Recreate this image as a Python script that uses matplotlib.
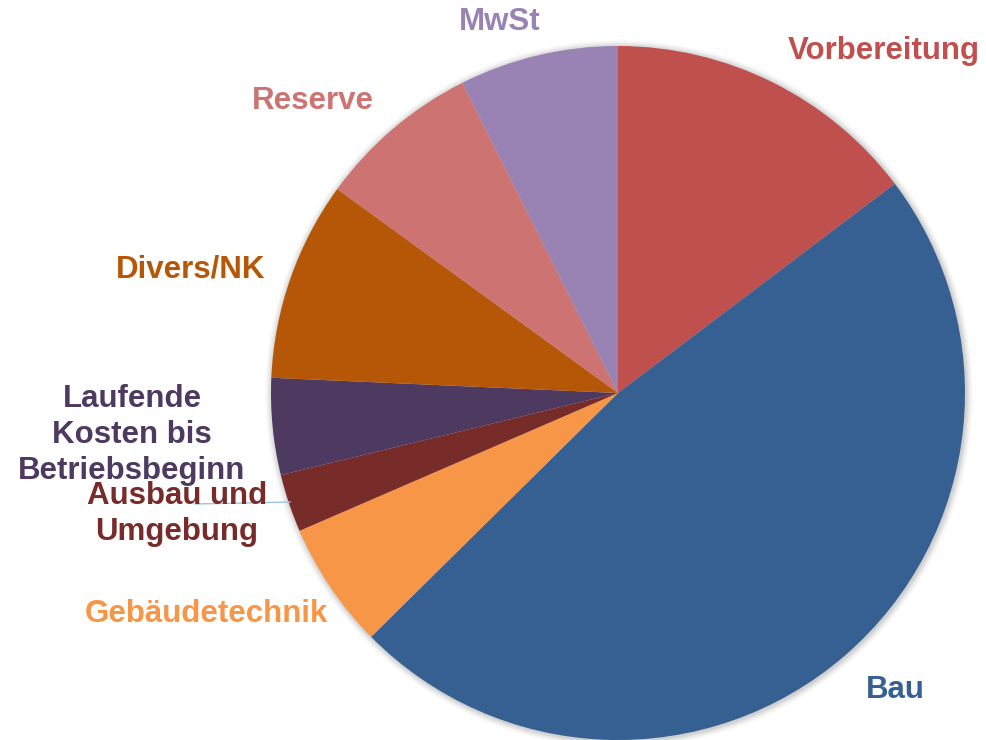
import matplotlib.pyplot as plt
from matplotlib.patches import Circle

# Kostenanteile (in %), im Uhrzeigersinn ab 12 Uhr
labels = ['Vorbereitung', 'Bau', 'Gebäudetechnik', 'Ausbau und\nUmgebung',
          'Laufende\nKosten bis\nBetriebsbeginn', 'Divers/NK', 'Reserve', 'MwSt']
values = [14.7, 47.9, 5.9, 2.7, 4.5, 9.3, 7.6, 7.4]
colors = ['#C0504D', '#366092', '#F79646', '#772C2A',
          '#4E3A61', '#B65708', '#CD7371', '#9983B5']

plt.rcParams['font.family'] = ['Liberation Sans', 'DejaVu Sans']

fig = plt.figure(figsize=(9.86, 7.40), dpi=100)
fig.patch.set_facecolor('white')
ax = fig.add_axes([0, 0, 1, 1])
ax.set_xlim(0, 986)
ax.set_ylim(0, 740)
ax.set_aspect('equal')
ax.axis('off')

cx, cy, r = 618, 740 - 393, 347

# soft shadow around the pie
for i, a in enumerate([0.05, 0.05, 0.04, 0.03, 0.02]):
    ax.add_patch(Circle((cx + 1, cy - 1), r + 1 + 1.5 * i, color='black', alpha=a, lw=0, zorder=0))

ax.pie(values, colors=colors, startangle=90, counterclock=False,
       center=(cx, cy), radius=r, frame=True,
       wedgeprops=dict(linewidth=0, zorder=1))
ax.set_xlim(0, 986)
ax.set_ylim(0, 740)
ax.axis('off')

# label positions in pixels (x, y from top)
label_pos = [(884, 51), (895, 690), (206, 614), (177, 514),
             (132, 435), (191, 269), (313, 101), (500, 22)]
text_colors = ['#C0504D', '#366092', '#F79646', '#772C2A',
               '#4E3A61', '#B65708', '#CD7371', '#9983B5']

for lab, (x, y), c in zip(labels, label_pos, text_colors):
    ax.text(x, 740 - y, lab, color=c, fontsize=22.5, fontweight='bold',
            ha='center', va='center', linespacing=1.25, zorder=5)

# leader line for Ausbau und Umgebung
ax.plot([195, 290], [740 - 504, 740 - 502], color='#9DC3E6', lw=1, zorder=4)

fig.savefig('out.png', dpi=100)
